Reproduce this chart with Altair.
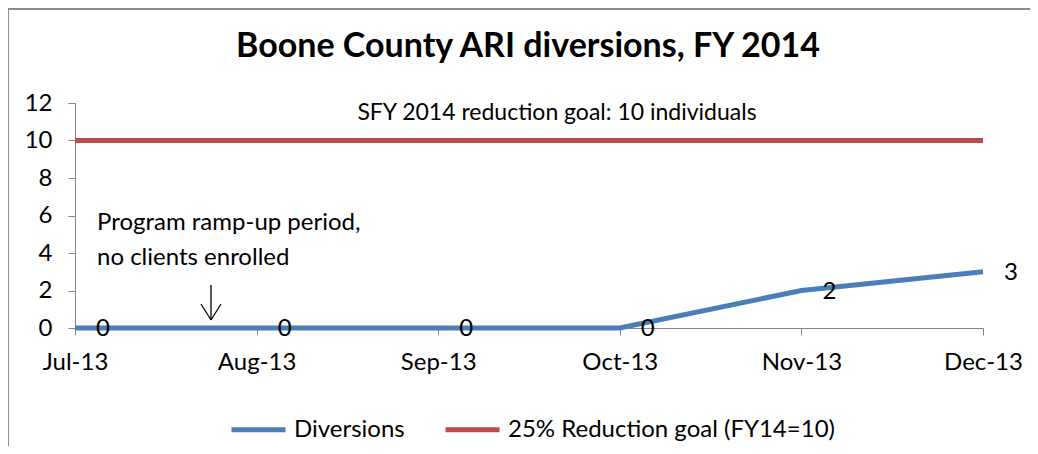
import altair as alt
import pandas as pd

months = ["Jul-13", "Aug-13", "Sep-13", "Oct-13", "Nov-13", "Dec-13"]
diversions = [0, 0, 0, 0, 2, 3]
goal = [10, 10, 10, 10, 10, 10]
series_names = ["Diversions", "25% Reduction goal (FY14=10)"]
series_colors = ["#4A7EBB", "#BE4B48"]
y_ticks = [0, 2, 4, 6, 8, 10, 12]

title_text = "Boone County ARI diversions, FY 2014"
goal_note = "SFY 2014 reduction goal: 10 individuals"
ramp_note = ["Program ramp-up period,", "no clients enrolled"]

FONT = "Lato"

rows = []
for m, d, g in zip(months, diversions, goal):
    rows.append({"month": m, "series": series_names[0], "value": d})
    rows.append({"month": m, "series": series_names[1], "value": g})
df = pd.DataFrame(rows)
df_div = pd.DataFrame({"month": months, "value": diversions})

x_enc = alt.X("month:N", sort=months, title=None,
              scale=alt.Scale(type="point", padding=0),
              axis=alt.Axis(labelAngle=0, tickSize=7, labelPadding=15,
                            labelOverlap=False,
                            domainColor="#868686", tickColor="#868686",
                            labelFont=FONT, labelFontSize=24, labelColor="#000"))
y_enc = alt.Y("value:Q", title=None,
              scale=alt.Scale(domain=[0, 12], nice=False),
              axis=alt.Axis(values=y_ticks, grid=False, tickSize=7, labelPadding=16,
                            labelOverlap=False,
                            domainColor="#868686", tickColor="#868686",
                            labelFont=FONT, labelFontSize=24, labelColor="#000"))

lines = alt.Chart(df).mark_line(strokeWidth=5, strokeCap="butt").encode(
    x=x_enc,
    y=y_enc,
    color=alt.Color("series:N", sort=series_names,
                    scale=alt.Scale(domain=series_names, range=series_colors),
                    legend=alt.Legend(title=None, orient="none", direction="horizontal",
                                      legendX=154, legendY=297,
                                      symbolType="stroke", symbolSize=2916,
                                      symbolStrokeWidth=5, labelFont=FONT,
                                      labelFontSize=24, labelColor="#000",
                                      labelLimit=600,
                                      labelOffset=6, columnPadding=30)),
    detail="series:N",
)

labels = alt.Chart(df_div).mark_text(font=FONT, fontSize=24, dx=28, dy=1,
                                     baseline="middle", color="#000").encode(
    x=x_enc,
    y=y_enc,
    text=alt.Text("value:Q"),
)

one = pd.DataFrame({"k": [0]})

title = alt.Chart(one).mark_text(text=title_text, font=FONT, fontSize=34,
                                 fontWeight="bold", baseline="alphabetic",
                                 align="center", color="#000").encode(
    x=alt.value(453), y=alt.value(-46))

goal_txt = alt.Chart(one).mark_text(text=goal_note, font=FONT, fontSize=23,
                                    baseline="middle", align="center",
                                    color="#000").encode(
    x=alt.value(482), y=alt.value(10))

ramp1 = alt.Chart(one).mark_text(text=ramp_note[0], font=FONT, fontSize=24,
                                 baseline="middle", align="left",
                                 color="#000").encode(
    x=alt.value(22), y=alt.value(120))
ramp2 = alt.Chart(one).mark_text(text=ramp_note[1], font=FONT, fontSize=24,
                                 baseline="middle", align="left",
                                 color="#000").encode(
    x=alt.value(22), y=alt.value(155))

arrow_shaft = alt.Chart(one).mark_rule(color="#000", strokeWidth=1.3).encode(
    x=alt.value(136), y=alt.value(182), y2=alt.value(217))
arrow_l = alt.Chart(one).mark_rule(color="#000", strokeWidth=1.3).encode(
    x=alt.value(126), x2=alt.value(136), y=alt.value(201), y2=alt.value(217))
arrow_r = alt.Chart(one).mark_rule(color="#000", strokeWidth=1.3).encode(
    x=alt.value(146), x2=alt.value(136), y=alt.value(201), y2=alt.value(217))

border_left = alt.Chart(one).mark_rule(color="#8c8c8c", strokeWidth=2).encode(
    x=alt.value(-67), y=alt.value(-94), y2=alt.value(360))
border_top = alt.Chart(one).mark_rule(color="#8c8c8c", strokeWidth=2).encode(
    x=alt.value(-67), x2=alt.value(970), y=alt.value(-94))

chart = alt.layer(
    border_left, border_top, lines, labels, title, goal_txt, ramp1, ramp2,
    arrow_shaft, arrow_l, arrow_r,
).properties(
    width=908, height=225,
    autosize=alt.AutoSizeParams(type="none"),
    padding={"left": 67, "top": 95, "right": 47, "bottom": 118},
).configure_view(stroke=None)

chart.save("out.html", embed_options={"renderer": "svg", "actions": False})
